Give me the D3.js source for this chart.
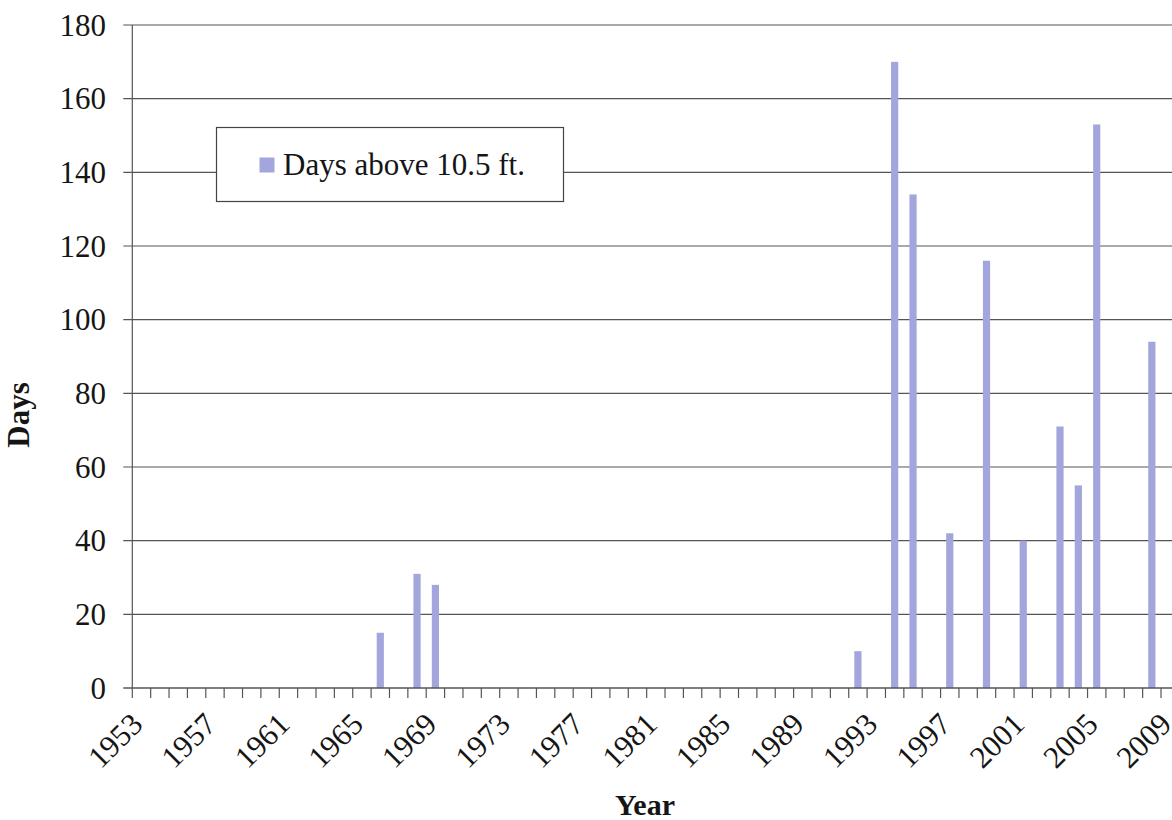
<!DOCTYPE html>
<html>
<head>
<meta charset="utf-8">
<script src="https://cdn.jsdelivr.net/npm/d3@7"></script>
<style>
  html, body { margin: 0; padding: 0; background: #fff; overflow: hidden; }
  svg { display: block; }
</style>
</head>
<body>
<svg id="chart" width="1172" height="820"></svg>
<script>
// Water year categories along the x axis
const years = [
  1953, 1954, 1955, 1956, 1957, 1958, 1959, 1960, 1961, 1962,
  1963, 1964, 1965, 1966, 1967, 1968, 1969, 1970, 1971, 1972,
  1973, 1974, 1975, 1976, 1977, 1978, 1979, 1980, 1981, 1982,
  1983, 1984, 1985, 1986, 1987, 1988, 1989, 1990, 1991, 1992,
  1993, 1994, 1995, 1996, 1997, 1998, 1999, 2000, 2001, 2002,
  2003, 2004, 2005, 2006, 2007, 2008, 2009
];

// Days above 10.5 ft. for each year, in the same order
const daysAbove = [
  0, 0, 0, 0, 0, 0, 0, 0, 0, 0,
  0, 0, 0, 15, 0, 31, 28, 0, 0, 0,
  0, 0, 0, 0, 0, 0, 0, 0, 0, 0,
  0, 0, 0, 0, 0, 0, 0, 0, 0, 10,
  0, 170, 134, 0, 42, 0, 116, 0, 40, 0,
  71, 55, 153, 0, 0, 94, 0
];

// Labelled years on the x axis
const yearLabels = [1953, 1957, 1961, 1965, 1969, 1973, 1977, 1981, 1985, 1989, 1993, 1997, 2001, 2005, 2009];

// Y axis ticks
const dayTicks = [0, 20, 40, 60, 80, 100, 120, 140, 160, 180];

const seriesName = "Days above 10.5 ft.";

const serif = '"Liberation Serif", serif';

const svg = d3.select("#chart");
const plotLeft = 132.3, plotBottom = 688, plotTop = 25;
const bandW = 18.37;

const x = d3.scaleBand()
  .domain(years)
  .range([plotLeft, plotLeft + bandW * years.length])
  .paddingInner(0).paddingOuter(0);

const y = d3.scaleLinear().domain([0, 180]).range([plotBottom, plotTop]);

const gridColor = "#555";
const textColor = "#151515";

// Horizontal gridlines with short outward ticks on the left
svg.append("g").selectAll("line")
  .data(dayTicks.filter(d => d > 0))
  .join("line")
  .attr("x1", plotLeft - 9).attr("x2", 1172)
  .attr("y1", d => y(d)).attr("y2", d => y(d))
  .attr("stroke", gridColor).attr("stroke-width", 1.2);

// Y tick labels
svg.append("g").selectAll("text")
  .data(dayTicks)
  .join("text")
  .attr("x", 106).attr("y", d => y(d))
  .attr("dy", "0.34em")
  .attr("text-anchor", "end")
  .style("font-family", serif)
  .attr("font-size", 31)
  .attr("fill", textColor)
  .text(d => d);

// Bars
const barW = 7.2;
svg.append("g").selectAll("rect")
  .data(years.map((yr, i) => ({ year: yr, value: daysAbove[i] })).filter(d => d.value > 0))
  .join("rect")
  .attr("x", d => x(d.year) + x.bandwidth() / 2 - barW / 2)
  .attr("width", barW)
  .attr("y", d => y(d.value))
  .attr("height", d => y(0) - y(d.value))
  .attr("fill", "#a3a6dc");

// Y axis line
svg.append("line")
  .attr("x1", plotLeft).attr("x2", plotLeft)
  .attr("y1", plotTop).attr("y2", plotBottom)
  .attr("stroke", gridColor).attr("stroke-width", 1.2);

// X axis line (extends left to meet the 0 tick)
svg.append("line")
  .attr("x1", plotLeft - 9).attr("x2", 1172)
  .attr("y1", plotBottom).attr("y2", plotBottom)
  .attr("stroke", gridColor).attr("stroke-width", 1.4);

// X ticks at category boundaries
const boundaries = years.map(yr => x(yr)).concat([x(years[years.length - 1]) + x.bandwidth()]);
svg.append("g").selectAll("line")
  .data(boundaries)
  .join("line")
  .attr("x1", d => d).attr("x2", d => d)
  .attr("y1", plotBottom).attr("y2", plotBottom + 10)
  .attr("stroke", gridColor).attr("stroke-width", 1.2);

// Rotated year labels
svg.append("g").selectAll("text")
  .data(yearLabels)
  .join("text")
  .attr("transform", d => `translate(${x(d) + x.bandwidth() / 2 + 3},${plotBottom + 38}) rotate(-45)`)
  .attr("text-anchor", "end")
  .style("font-family", serif)
  .attr("font-size", 31)
  .attr("fill", textColor)
  .text(d => d);

// Axis titles
svg.append("text")
  .attr("x", 645).attr("y", 815)
  .attr("text-anchor", "middle")
  .style("font-family", serif)
  .attr("font-size", 30).attr("font-weight", "bold")
  .attr("fill", textColor)
  .text("Year");

svg.append("text")
  .attr("transform", "translate(29,415) rotate(-90)")
  .attr("text-anchor", "middle")
  .style("font-family", serif)
  .attr("font-size", 31).attr("font-weight", "bold")
  .attr("fill", textColor)
  .text("Days");

// Legend
const legend = svg.append("g");
legend.append("rect")
  .attr("x", 216.5).attr("y", 127.5)
  .attr("width", 347).attr("height", 74)
  .attr("fill", "#fff").attr("stroke", "#444").attr("stroke-width", 1.2);
legend.append("rect")
  .attr("x", 259.5).attr("y", 157.5)
  .attr("width", 15).attr("height", 15)
  .attr("fill", "#a3a6dc");
legend.append("text")
  .attr("x", 283).attr("y", 175)
  .style("font-family", serif)
  .attr("font-size", 31)
  .attr("fill", textColor)
  .text(seriesName);
</script>
</body>
</html>
